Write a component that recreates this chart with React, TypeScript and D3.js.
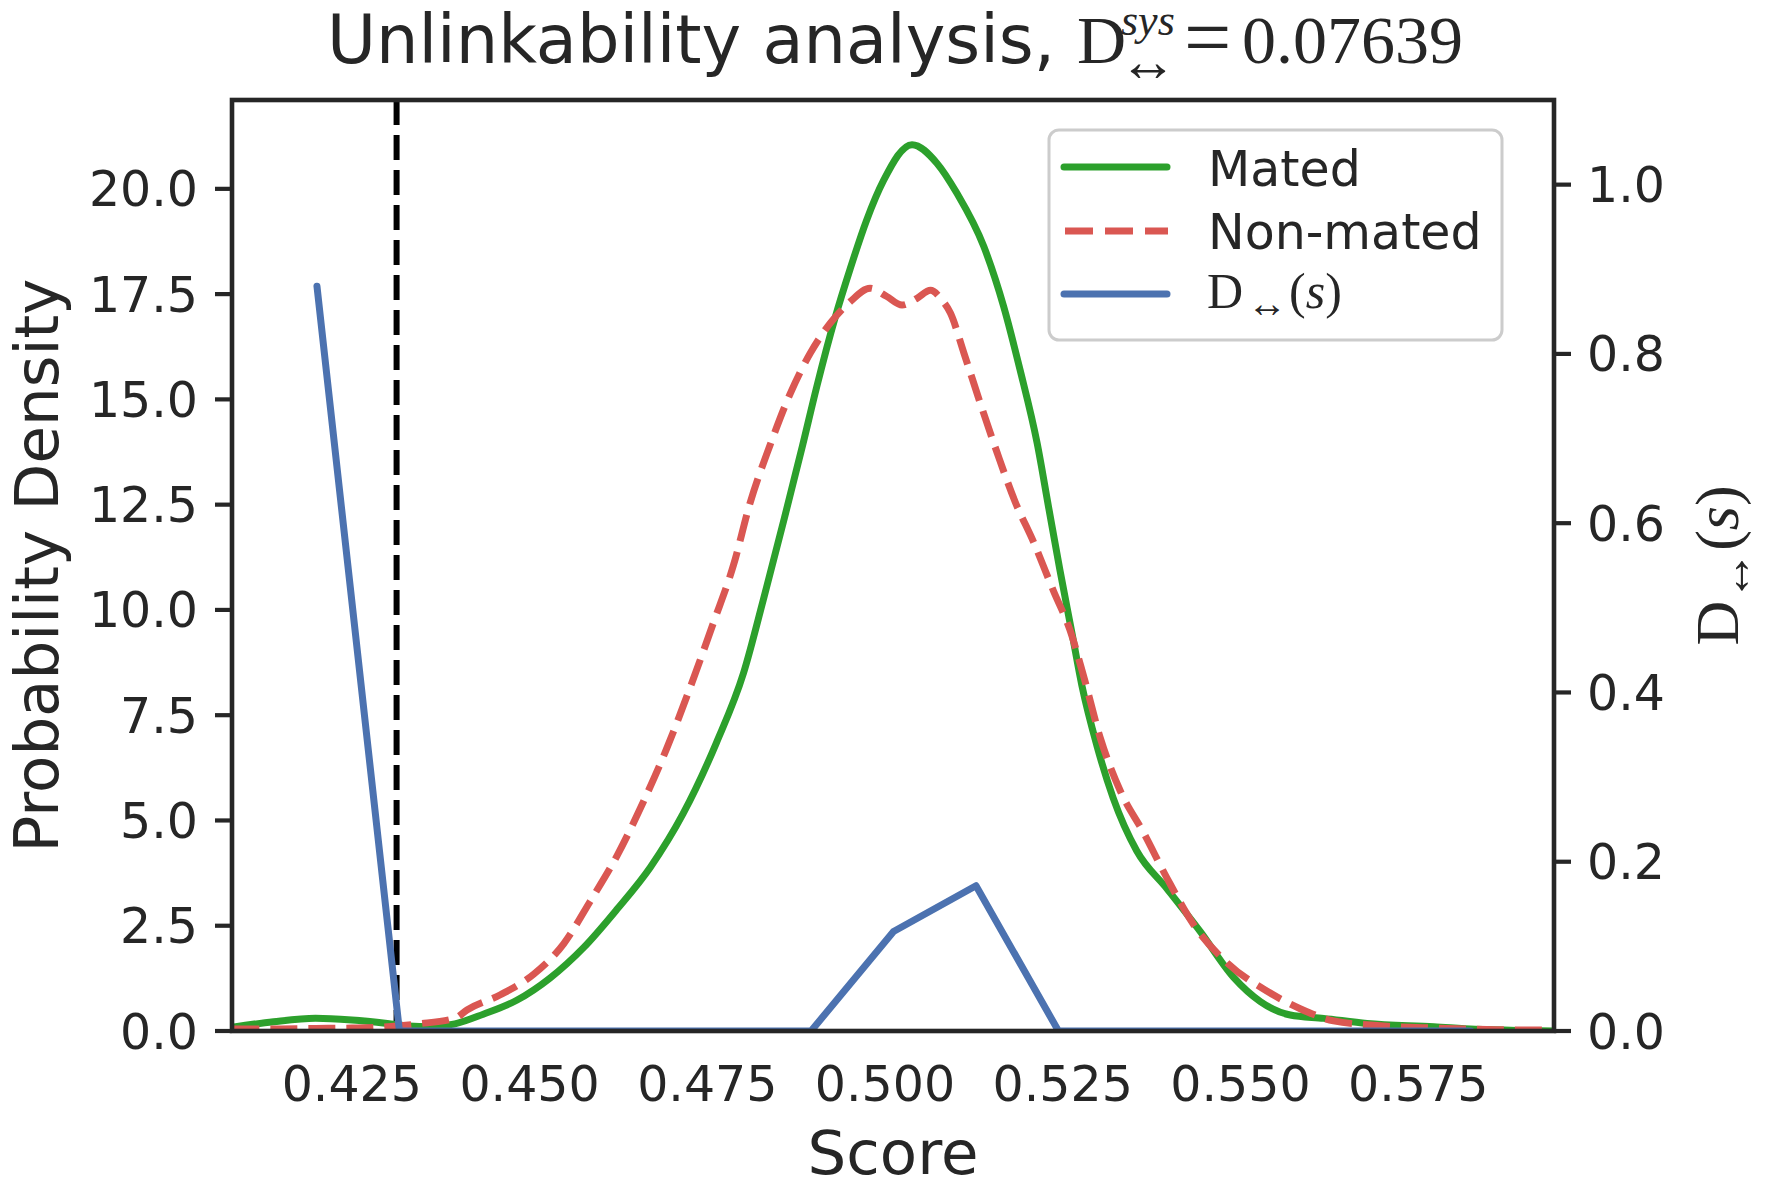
import React from "react";
import * as d3 from "d3";

// Axis ticks
const scoreTicks = [0.425, 0.45, 0.475, 0.5, 0.525, 0.55, 0.575];
const densityTicks = [0, 2.5, 5, 7.5, 10, 12.5, 15, 17.5, 20];
const dTicks = [0, 0.2, 0.4, 0.6, 0.8, 1.0];

// Mated score density (KDE)
const matedScores = [
  0.4082, 0.414, 0.4199, 0.425, 0.43, 0.433, 0.436, 0.4395, 0.4435, 0.4482,
  0.4529, 0.4576, 0.4623, 0.467, 0.4716, 0.4763, 0.4801, 0.4829, 0.4858, 0.4884,
  0.4904, 0.493, 0.4951, 0.4974, 0.4998, 0.5038, 0.5073, 0.5101, 0.5139, 0.5167,
  0.519, 0.5214, 0.523, 0.5246, 0.5263, 0.5277, 0.5298, 0.5321, 0.5354, 0.5397,
  0.5443, 0.549, 0.5528, 0.557, 0.5617, 0.5678, 0.5772, 0.583, 0.59, 0.5941,
];
const matedDensity = [
  0.09, 0.22, 0.3, 0.26, 0.18, 0.12, 0.1, 0.17, 0.4, 0.73,
  1.26, 1.98, 2.89, 3.89, 5.16, 6.85, 8.5, 10.25, 12.15, 13.9,
  15.3, 16.95, 18.1, 19.25, 20.2, 21.05, 20.61, 19.9, 18.63, 17.2,
  15.7, 13.96, 12.45, 10.95, 9.45, 8.2, 6.78, 5.53, 4.28, 3.37,
  2.37, 1.28, 0.7, 0.38, 0.3, 0.18, 0.1, 0.04, 0.01, 0.0,
];

// Non-mated score density (KDE)
const nonMatedScores = [
  0.4082, 0.415, 0.42, 0.425, 0.429, 0.4343, 0.4395, 0.4412, 0.4459, 0.4506,
  0.4548, 0.4585, 0.4623, 0.466, 0.4693, 0.4726, 0.4759, 0.4787, 0.481, 0.4838,
  0.4867, 0.4895, 0.4923, 0.4951, 0.4979, 0.5002, 0.5024, 0.5045, 0.5064, 0.508,
  0.5092, 0.5111, 0.5134, 0.5158, 0.5183, 0.5209, 0.5237, 0.526, 0.5279, 0.5303,
  0.5331, 0.5364, 0.5397, 0.5434, 0.5481, 0.5537, 0.5584, 0.5631, 0.5701, 0.5772,
  0.586, 0.5941,
];
const nonMatedDensity = [
  0.05, 0.05, 0.06, 0.07, 0.09, 0.17, 0.3, 0.5, 0.86, 1.35,
  2.07, 3.07, 4.16, 5.44, 6.71, 8.16, 9.71, 11.07, 12.53, 13.9,
  15.15, 16.1, 16.81, 17.32, 17.64, 17.45, 17.24, 17.4, 17.59, 17.36,
  17.05, 16.1, 14.91, 13.72, 12.57, 11.61, 10.45, 9.53, 8.45, 6.95,
  5.7, 4.7, 3.62, 2.53, 1.62, 0.95, 0.53, 0.24, 0.12, 0.07,
  0.03, 0.02,
];

// Local distinguishability D(s) per score bin
const binCenters = [
  0.4201, 0.4317, 0.4433, 0.4549, 0.4665, 0.4781, 0.4896, 0.5012,
  0.5128, 0.5244, 0.536, 0.5476, 0.5592, 0.5708, 0.5824,
];
const dLocal = [0.88, 0, 0, 0, 0, 0, 0, 0.1175, 0.1716, 0, 0, 0, 0, 0, 0];

const threshold = 0.4313;
const dSys = 0.07639;

const INK = "#262626";
const SANS = "'DejaVu Sans', sans-serif";
const SERIF = "'Liberation Serif', 'DejaVu Serif', serif";
const GREEN = "#2ca02c";
const RED = "#da5752";
const BLUE = "#4c72b0";

const W = 1767;
const H = 1201;
const left = 232;
const right = 1554;
const top = 100;
const bottom = 1031;

export default function App() {
  const x = d3.scaleLinear().domain([0.40815, 0.5941]).range([left, right]);
  const yL = d3.scaleLinear().domain([0, 22.11]).range([bottom, top]);
  const yR = d3.scaleLinear().domain([0, 1.1]).range([bottom, top]);

  const densityLine = d3
    .line<[number, number]>()
    .x((d) => x(d[0]))
    .y((d) => yL(d[1]))
    .curve(d3.curveMonotoneX);
  const dLine = d3
    .line<[number, number]>()
    .x((d) => x(d[0]))
    .y((d) => yR(d[1]));

  const mated = matedScores.map((s, i) => [s, matedDensity[i]] as [number, number]);
  const nonMated = nonMatedScores.map((s, i) => [s, nonMatedDensity[i]] as [number, number]);
  const dPts = binCenters.map((s, i) => [s, dLocal[i]] as [number, number]);

  const fmt1 = d3.format(".1f");

  return (
    <svg
      width={W}
      height={H}
      style={{ position: "absolute", left: 0, top: 0, background: "#fff" }}
    >
      <defs>
        <clipPath id="plot-clip">
          <rect x={left} y={top} width={right - left} height={bottom - top} />
        </clipPath>
      </defs>
      <rect width={W} height={H} fill="#fff" />

      {/* Title */}
      <g fill={INK}>
        <text x={327} y={63} fontFamily={SANS} fontSize={67}>
          Unlinkability analysis,
        </text>
        <text x={1077} y={63} fontFamily={SERIF} fontSize={68}>
          D
        </text>
        <text x={1121} y={35} fontFamily={SERIF} fontSize={44} fontStyle="italic">
          sys
        </text>
        <text x={1119} y={81} fontFamily={SERIF} fontSize={58}>
          ↔
        </text>
        <text x={1184} y={66} fontFamily={SERIF} fontSize={84}>
          =
        </text>
        <text x={1242} y={63} fontFamily={SERIF} fontSize={68}>
          {String(dSys)}
        </text>
      </g>

      {/* Data */}
      <g clipPath="url(#plot-clip)">
        <line
          x1={x(threshold)}
          x2={x(threshold)}
          y1={top}
          y2={bottom}
          stroke="#000"
          strokeWidth={6}
          strokeDasharray="25,10"
        />
        <path d={densityLine(mated) || ""} fill="none" stroke={GREEN} strokeWidth={7} strokeLinejoin="round" />
        <path
          d={densityLine(nonMated) || ""}
          fill="none"
          stroke={RED}
          strokeWidth={7}
          strokeDasharray="27,11"
        />
        <path d={dLine(dPts) || ""} fill="none" stroke={BLUE} strokeWidth={7} strokeLinejoin="round" strokeLinecap="round" />
      </g>

      {/* Spines */}
      <rect
        x={left}
        y={top}
        width={right - left}
        height={bottom - top}
        fill="none"
        stroke={INK}
        strokeWidth={4.6}
      />

      {/* Left axis */}
      <g fill={INK} fontFamily={SANS} fontSize={49}>
        {densityTicks.map((t) => (
          <g key={"l" + t}>
            <line x1={left - 17} x2={left} y1={yL(t)} y2={yL(t)} stroke={INK} strokeWidth={4.2} />
            <text x={198} y={yL(t) + 17.5} textAnchor="end">
              {fmt1(t)}
            </text>
          </g>
        ))}
      </g>

      {/* Right axis */}
      <g fill={INK} fontFamily={SANS} fontSize={49}>
        {dTicks.map((t) => (
          <g key={"r" + t}>
            <line x1={right} x2={right + 17} y1={yR(t)} y2={yR(t)} stroke={INK} strokeWidth={4.2} />
            <text x={1587} y={yR(t) + 17.5} textAnchor="start">
              {fmt1(t)}
            </text>
          </g>
        ))}
      </g>

      {/* Bottom axis labels */}
      <g fill={INK} fontFamily={SANS} fontSize={49}>
        {scoreTicks.map((t) => (
          <text key={"b" + t} x={x(t)} y={1101} textAnchor="middle">
            {d3.format(".3f")(t)}
          </text>
        ))}
      </g>

      {/* Axis titles */}
      <text x={(left + right) / 2} y={1174} textAnchor="middle" fontFamily={SANS} fontSize={61} fill={INK}>
        Score
      </text>
      <text
        transform={`translate(58,${(top + bottom) / 2}) rotate(-90)`}
        textAnchor="middle"
        fontFamily={SANS}
        fontSize={61}
        fill={INK}
      >
        Probability Density
      </text>
      <text
        transform={`translate(1738,${(top + bottom) / 2}) rotate(-90)`}
        textAnchor="middle"
        fontFamily={SERIF}
        fontSize={62}
        fill={INK}
      >
        <tspan>D</tspan>
        <tspan fontSize={50} dy={12}>↔</tspan>
        <tspan dy={-12}>(</tspan>
        <tspan fontStyle="italic">s</tspan>
        <tspan>)</tspan>
      </text>

      {/* Legend */}
      <g>
        <rect
          x={1049}
          y={130}
          width={453}
          height={210}
          rx={10}
          fill="#fff"
          fillOpacity={0.8}
          stroke="#cccccc"
          strokeWidth={3}
        />
        <line x1={1064} x2={1167} y1={167} y2={167} stroke={GREEN} strokeWidth={7} strokeLinecap="round" />
        <text x={1208} y={186} fontFamily={SANS} fontSize={49} fill={INK}>
          Mated
        </text>
        <line x1={1065} x2={1168} y1={231} y2={231} stroke={RED} strokeWidth={7} strokeDasharray="28,12" />
        <text x={1208} y={249} fontFamily={SANS} fontSize={49} fill={INK}>
          Non-mated
        </text>
        <line x1={1064} x2={1167} y1={294} y2={294} stroke={BLUE} strokeWidth={7} strokeLinecap="round" />
        <text x={1207} y={308} fontFamily={SERIF} fontSize={50} fill={INK}>
          <tspan>D</tspan>
          <tspan fontSize={40} dy={9} dx={4}>↔</tspan>
          <tspan dy={-9} dx={2}>(</tspan>
          <tspan fontStyle="italic">s</tspan>
          <tspan>)</tspan>
        </text>
      </g>
    </svg>
  );
}
